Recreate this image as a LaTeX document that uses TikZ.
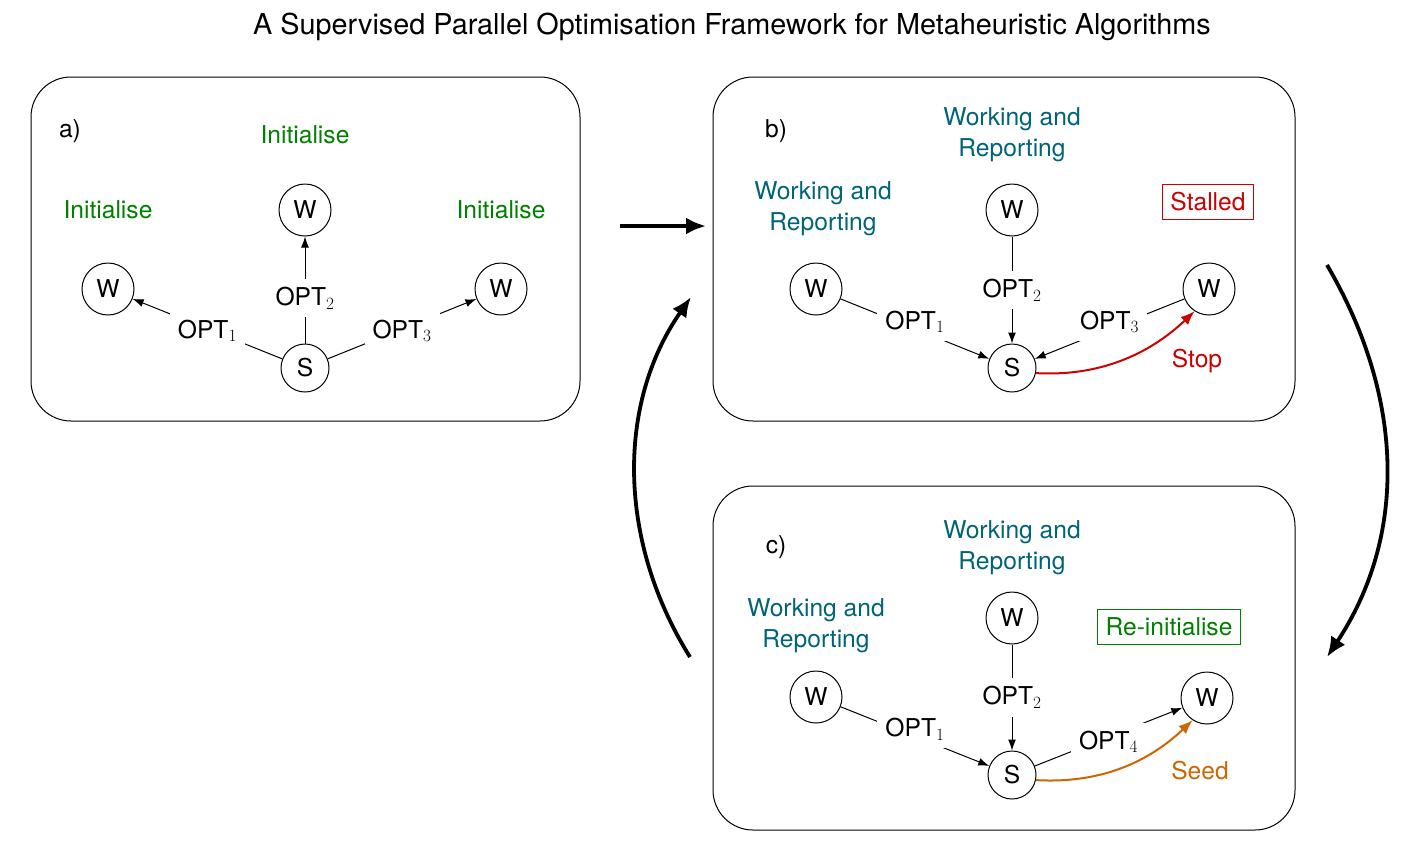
\RequirePackage{fix-cm}
\documentclass[tikz,border=0pt]{standalone}
\usepackage[no-math]{fontspec}
\setmainfont{TeX Gyre Heros}
\usetikzlibrary{arrows.meta,calc}
\definecolor{wgreen}{RGB}{0,128,0}
\definecolor{wteal}{RGB}{0,100,120}
\definecolor{wred}{RGB}{204,0,0}
\definecolor{worange}{RGB}{204,102,0}
\begin{document}
\begin{tikzpicture}[x=1pt,y=-1pt,
  every node/.style={font=\fontsize{24.6}{31}\selectfont, inner sep=8pt},
  panel/.style={draw, line width=1pt, rounded corners=40pt},
  agent/.style={circle, draw, line width=1pt, inner sep=0pt, minimum size=52pt},
  sagent/.style={circle, draw, line width=1pt, inner sep=0pt, minimum size=48pt},
  lbl/.style={fill=white, inner sep=8pt},
  tarrow/.style={line width=1pt, -{Latex[length=11pt,width=8pt]}},
  bigarrow/.style={line width=3.8pt, -{Latex[length=20pt,width=17pt]}},
  init/.style={text=wgreen},
  work/.style={text=wteal, align=center},
  stalledbox/.style={draw=wred, text=wred, line width=1pt},
  reinitbox/.style={draw=wgreen, text=wgreen, line width=1pt},
  stopcurve/.style={wred, line width=2pt, -{Latex[length=14pt,width=11pt]}},
  seedcurve/.style={worange, line width=2pt, -{Latex[length=14pt,width=11pt]}}
]
\useasboundingbox (0,0) rectangle (1413,844);
\node (title) at (732,27) {\fontsize{28.8}{34}\selectfont A Supervised Parallel Optimisation Framework for Metaheuristic Algorithms};

% panels
\draw[panel] (31,77) rectangle (580,421);
\draw[panel] (713,77) rectangle (1295,421);
\draw[panel] (713,486) rectangle (1295,830);

% ---- panel a
\node (la) at (70,131) {a)};
\node[init] (ia2) at (305,135) {Initialise};
\node[init] (ia1) at (108,210) {Initialise};
\node[init] (ia3) at (501,210) {Initialise};
\node[agent] (W1a) at (108,289) {W};
\node[agent] (W2a) at (305,210) {W};
\node[agent] (W3a) at (501,289) {W};
\node[sagent] (Sa) at (305,368) {S};
\draw[tarrow] (Sa) -- node[lbl, yshift=-2pt]{OPT$_1$} (W1a);
\draw[tarrow] (Sa) -- node[lbl, yshift=-8pt]{OPT$_2$} (W2a);
\draw[tarrow] (Sa) -- node[lbl, yshift=-2pt]{OPT$_3$} (W3a);

% ---- panel b
\node (lb) at (776,131) {b)};
\node[work] (wb2) at (1012,135) {Working and\\Reporting};
\node[work] (wb1) at (823,209) {Working and\\Reporting};
\node[stalledbox] (stalled) at (1208,202) {Stalled};
\node[agent] (W1b) at (816,289) {W};
\node[agent] (W2b) at (1012,210) {W};
\node[agent] (W3b) at (1209,289) {W};
\node[sagent] (Sb) at (1012,368) {S};
\draw[tarrow] (W1b) -- node[lbl, yshift=7pt]{OPT$_1$} (Sb);
\draw[tarrow] (W2b) -- node[lbl]{OPT$_2$} (Sb);
\draw[tarrow] (W3b) -- node[lbl, yshift=7pt]{OPT$_3$} (Sb);
\draw[stopcurve] (Sb.-12) .. controls +(70,4) and +(-40,38) .. (W3b.237);
\node[text=wred] (stop) at (1197,361) {Stop};

% ---- panel c
\node (lc) at (776,547) {c)};
\node[work] (wc2) at (1012,548) {Working and\\Reporting};
\node[work] (wc1) at (816,626) {Working and\\Reporting};
\node[reinitbox] (reinit) at (1169,627) {Re-initialise};
\node[agent] (W1c) at (816,697) {W};
\node[agent] (W2c) at (1012,618) {W};
\node[agent] (W3c) at (1207,698) {W};
\node[sagent] (Sc) at (1012,775) {S};
\draw[tarrow] (W1c) -- node[lbl, yshift=7pt]{OPT$_1$} (Sc);
\draw[tarrow] (W2c) -- node[lbl]{OPT$_2$} (Sc);
\draw[tarrow] (Sc) -- node[lbl, yshift=-5pt]{OPT$_4$} (W3c);
\draw[seedcurve] (Sc.-12) .. controls +(70,4) and +(-40,38) .. (W3c.237);
\node[text=worange] (seed) at (1200,771) {Seed};

% ---- big arrows between panels
\coordinate (ab1) at (620,226);
\coordinate (ab2) at (706,226);
\coordinate (bc1) at (1327,265);
\coordinate (bc2) at (1327,657);
\coordinate (cb1) at (690,657);
\coordinate (cb2) at (691,297);
\draw[bigarrow] (ab1) -- (ab2);
\draw[bigarrow] (bc1) .. controls (1406,400) and (1406,538) .. (bc2);
\draw[bigarrow] (cb1) .. controls (617,540) and (617,403) .. (cb2);
\end{tikzpicture}
\end{document}
